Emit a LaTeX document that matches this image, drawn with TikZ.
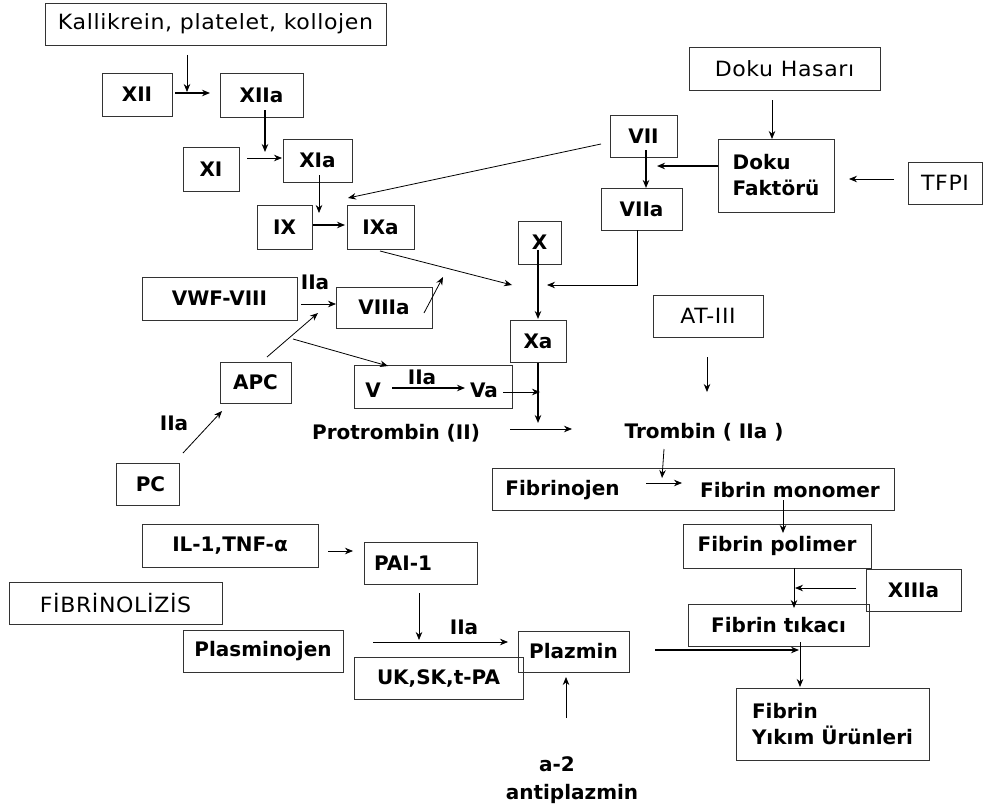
\documentclass[tikz,border=0pt]{standalone}
\usepackage{fontspec}
\setmainfont{DejaVu Sans}
\newfontfamily\rgfam[FakeStretch=1.05,LetterSpace=3]{DejaVu Sans}
\usetikzlibrary{arrows.meta}
\tikzset{
  box/.style={draw=black!80, line width=0.9pt, inner sep=1pt},
  bf/.style={font=\fontsize{20}{26}\selectfont\bfseries},
  rg/.style={font=\rgfam\fontsize{21}{26}\selectfont},
  arr/.style={-{Stealth[length=8pt,width=6.5pt]}, line width=0.8pt},
  tarr/.style={arr, line width=1.4pt},
}
\begin{document}
\begin{tikzpicture}[x=1pt,y=-1pt]
\fill[white] (0,0) rectangle (984,808);
\useasboundingbox (0,0) rectangle (984,808);

% ---------- boxes ----------
\node[box,rg,minimum width=341pt,minimum height=42pt] (kal) at (215.5,24) {Kallikrein, platelet, kollojen};
\node[box,bf,minimum width=70pt,minimum height=43pt] (xii) at (137,94.5) {XII};
\node[box,bf,minimum width=83pt,minimum height=44pt] (xiia) at (261.5,95) {XIIa};
\node[box,bf,minimum width=56pt,minimum height=44pt] (xi) at (211,169) {XI};
\node[box,bf,minimum width=69pt,minimum height=43pt] (xia) at (317.5,160.5) {XIa};
\node[box,bf,minimum width=55pt,minimum height=44pt] (ix) at (284.5,227) {IX};
\node[box,bf,minimum width=67pt,minimum height=44pt] (ixa) at (380.5,227) {IXa};
\node[box,bf,minimum width=155pt,minimum height=43pt] (vwf) at (219.5,298.5) {VWF-VIII};
\node[box,bf,minimum width=96pt,minimum height=41pt] (viiia) at (384,307.5) {VIIIa};
\node[box,bf,minimum width=43pt,minimum height=43pt] (x) at (539.5,242.5) {X};
\node[box,bf,minimum width=56pt,minimum height=42pt] (xa) at (538,341) {Xa};
\node[box,minimum width=158pt,minimum height=43pt] (vva) at (433,386.5) {};
\node[box,bf,minimum width=71pt,minimum height=41pt] (apc) at (255.5,382.5) {APC};
\node[box,bf,minimum width=63pt,minimum height=42pt] (pc) at (147.5,484) {\hspace*{6pt}PC};
\node[box,bf,minimum width=67pt,minimum height=42pt] (vii) at (643.5,136) {VII};
\node[box,bf,minimum width=81pt,minimum height=42pt] (viia) at (641.5,209) {VIIa};
\node[box,rg,minimum width=191pt,minimum height=43pt] (dh) at (784.5,68.5) {Doku Hasarı};
\node[box,bf,align=left,minimum width=116pt,minimum height=73pt] (df) at (776,175.5) {Doku\\Faktörü};
\node[box,rg,minimum width=74pt,minimum height=42pt] (tfpi) at (945,183) {TFPI};
\node[box,rg,minimum width=110pt,minimum height=42pt] (at) at (708,316) {AT-III};
\node[box,minimum width=402pt,minimum height=42pt] (fib) at (693,489) {};
\node[box,bf,minimum width=188pt,minimum height=44pt] (poly) at (777,546) {Fibrin polimer};
\node[box,bf,minimum width=95pt,minimum height=42pt] (xiiia) at (913.5,590) {XIIIa};
\node[box,bf,minimum width=181pt,minimum height=42pt] (tik) at (778.5,625) {Fibrin tıkacı};
\node[box,bf,align=left,minimum width=193pt,minimum height=72pt] (fyu) at (832.5,724) {Fibrin\\Yıkım Ürünleri};
\node[box,bf,minimum width=176pt,minimum height=43pt] (il) at (230,545.5) {IL-1,TNF-α};
\node[box,bf,align=left,text width=93pt,minimum width=113pt,minimum height=42pt] (pai) at (420.5,563) {PAI-1};
\node[box,rg,minimum width=213pt,minimum height=42pt] (fibr) at (115.5,603) {FİBRİNOLİZİS};
\node[box,bf,minimum width=160pt,minimum height=42pt] (plas) at (263,651) {Plasminojen};
\node[box,bf,minimum width=169pt,minimum height=42pt] (uk) at (438.5,678) {UK,SK,t-PA};
\node[box,bf,minimum width=111pt,minimum height=41pt] (plaz) at (573.5,651.5) {Plazmin};

% ---------- free texts ----------
\node[bf] (tv) at (373,390) {V};
\node[bf] (tva) at (484,390) {Va};
\node[bf] (tiia1) at (422,377) {IIa};
\node[bf] (tiia2) at (315,282) {IIa};
\node[bf] (tiia3) at (174,423) {IIa};
\node[bf] (tiia4) at (464,627) {IIa};
\node[bf] (prot) at (396,433) {Protrombin (II)};
\node[bf] (trom) at (704,432) {Trombin ( IIa )};
\node[bf] (fbj) at (562.5,490) {Fibrinojen};
\node[bf] (fbm) at (790,490) {Fibrin monomer};
\node[bf] (a2) at (557,764) {a-2};
\node[bf] (anti) at (572,794) {antiplazmin};

% ---------- connector points ----------
\coordinate (c1a) at (187,55);   \coordinate (c1b) at (187,92);
\coordinate (c2a) at (175,93);   \coordinate (c2b) at (210,93);
\coordinate (c3a) at (265,110);  \coordinate (c3b) at (265,152);
\coordinate (c4a) at (247,158);  \coordinate (c4b) at (282,158);
\coordinate (c5a) at (319,175);  \coordinate (c5b) at (319,213);
\coordinate (c6a) at (313,225);  \coordinate (c6b) at (345,225);
\coordinate (c7a) at (601,144);  \coordinate (c7b) at (348,198);
\coordinate (c8a) at (380,251);  \coordinate (c8b) at (512,285);
\coordinate (c9a) at (301,304);  \coordinate (c9b) at (336,304);
\coordinate (c10a) at (424,313); \coordinate (c10b) at (443,277);
\coordinate (c11a) at (267,357); \coordinate (c11b) at (318,313);
\coordinate (c12a) at (293,339); \coordinate (c12b) at (388,366);
\coordinate (c13a) at (183,453); \coordinate (c13b) at (222,411);
\coordinate (c14a) at (392,388); \coordinate (c14b) at (465,388);
\coordinate (c15a) at (503,392); \coordinate (c15b) at (540,392);
\coordinate (c16a) at (538,250); \coordinate (c16b) at (538,319);
\coordinate (c17a) at (538,363); \coordinate (c17b) at (538,423);
\coordinate (c18a) at (637,230); \coordinate (c18m) at (637,285); \coordinate (c18b) at (547,285);
\coordinate (c19a) at (646,150); \coordinate (c19b) at (646,188);
\coordinate (c20a) at (718,166); \coordinate (c20b) at (657,166);
\coordinate (c21a) at (772,100); \coordinate (c21b) at (772,139);
\coordinate (c22a) at (894,179); \coordinate (c22b) at (849,179);
\coordinate (c23a) at (707,357); \coordinate (c23b) at (707,392);
\coordinate (c24a) at (510,429); \coordinate (c24b) at (572,429);
\coordinate (c25a) at (664,449); \coordinate (c25b) at (662,478);
\coordinate (c26a) at (646,483); \coordinate (c26b) at (682,483);
\coordinate (c27a) at (783,500); \coordinate (c27b) at (783,533);
\coordinate (c28a) at (794,568); \coordinate (c28b) at (794,608);
\coordinate (c29a) at (856,588); \coordinate (c29b) at (795,588);
\coordinate (c30a) at (800,642); \coordinate (c30b) at (800,687);
\coordinate (c31a) at (655,650); \coordinate (c31b) at (799,650);
\coordinate (c32a) at (566,718); \coordinate (c32b) at (566,677);
\coordinate (c33a) at (328,551); \coordinate (c33b) at (353,551);
\coordinate (c34a) at (419,593); \coordinate (c34b) at (419,640);
\coordinate (c35a) at (373,642); \coordinate (c35b) at (508,642);

% ---------- connectors ----------
\draw[arr]  (c1a) -- (c1b);
\draw[tarr] (c2a) -- (c2b);
\draw[tarr] (c3a) -- (c3b);
\draw[arr]  (c4a) -- (c4b);
\draw[arr]  (c5a) -- (c5b);
\draw[tarr] (c6a) -- (c6b);
\draw[arr]  (c7a) -- (c7b);
\draw[arr]  (c8a) -- (c8b);
\draw[arr]  (c9a) -- (c9b);
\draw[arr]  (c10a) -- (c10b);
\draw[arr]  (c11a) -- (c11b);
\draw[arr]  (c12a) -- (c12b);
\draw[arr]  (c13a) -- (c13b);
\draw[tarr] (c14a) -- (c14b);
\draw[arr]  (c15a) -- (c15b);
\draw[tarr] (c16a) -- (c16b);
\draw[tarr] (c17a) -- (c17b);
\draw[arr]  (c18a) -- (c18m) -- (c18b);
\draw[tarr] (c19a) -- (c19b);
\draw[tarr] (c20a) -- (c20b);
\draw[arr]  (c21a) -- (c21b);
\draw[arr]  (c22a) -- (c22b);
\draw[arr]  (c23a) -- (c23b);
\draw[arr]  (c24a) -- (c24b);
\draw[arr]  (c25a) -- (c25b);
\draw[arr]  (c26a) -- (c26b);
\draw[arr]  (c27a) -- (c27b);
\draw[arr]  (c28a) -- (c28b);
\draw[arr]  (c29a) -- (c29b);
\draw[arr]  (c30a) -- (c30b);
\draw[tarr] (c31a) -- (c31b);
\draw[arr]  (c32a) -- (c32b);
\draw[arr]  (c33a) -- (c33b);
\draw[arr]  (c34a) -- (c34b);
\draw[arr]  (c35a) -- (c35b);
\end{tikzpicture}
\end{document}
